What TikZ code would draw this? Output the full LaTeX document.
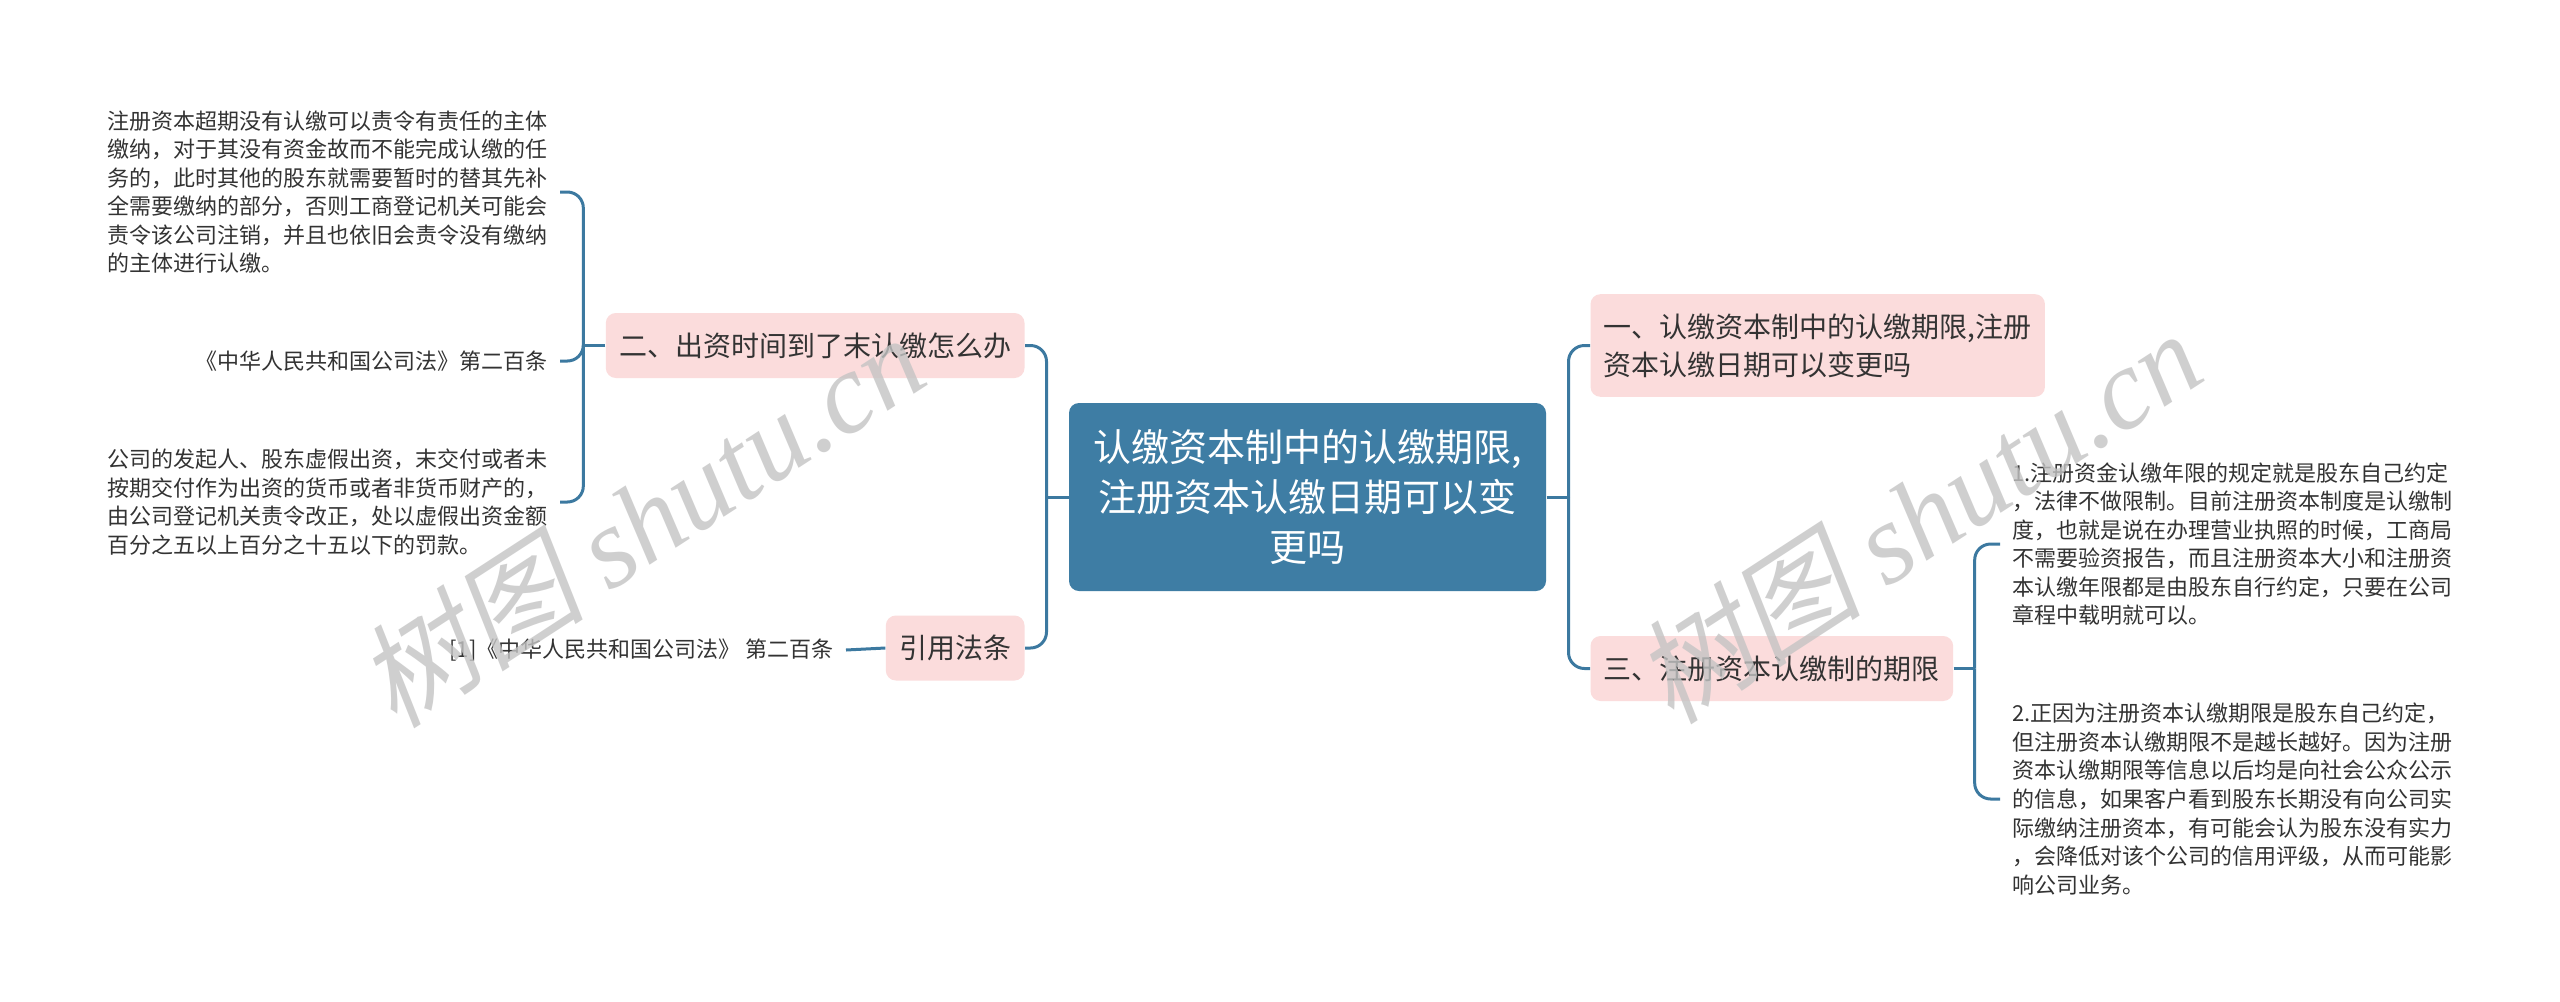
\documentclass[tikz,border=0pt]{standalone}
\usepackage{fontspec}
\setmainfont{Noto Sans CJK SC}
\newfontfamily\wmcjk[FakeSlant=0.2]{Noto Sans CJK SC}
\newfontfamily\wmlatin{Liberation Serif}

\tikzset{every picture/.style={line width=0.75pt}}
\tikzset{
  conn/.style={draw={rgb, 255:red, 60; green, 121; blue, 160 }, line width=2.25pt},
  topic/.style={fill={rgb, 255:red, 62; green, 125; blue, 164 }, rounded corners=7.5pt, text=white, minimum width=357.75pt, minimum height=141pt, align=center, font=\fontsize{28.5}{37.5}\selectfont},
  sub/.style={fill={rgb, 255:red, 251; green, 220; blue, 220 }, rounded corners=7.5pt, text={rgb, 255:red, 51; green, 51; blue, 51 }, inner xsep=10pt, minimum height=48.75pt, align=left, font=\fontsize{21}{28.5}\selectfont},
  leaf/.style={text={rgb, 255:red, 51; green, 51; blue, 51 }, inner xsep=9pt, inner ysep=0pt, font=\fontsize{16.5}{21.4}\selectfont},
  wmark/.style={text={rgb, 255:red, 196; green, 196; blue, 196 }, opacity=0.8, rotate=33, font=\fontsize{86}{86}\selectfont}
}

\begin{document}
\begin{tikzpicture}[x=0.75pt,y=0.75pt,yscale=-1,xscale=1]
\fill[white] (0,0) rectangle (2560,1001);
\useasboundingbox (0,0) rectangle (2560,1001);

%Shape: Rounded Rect (centre)
\draw (1307.5,497) node [topic] (root) {认缴资本制中的认缴期限,\\注册资本认缴日期可以变\\更吗};

%Shape: Rounded Rect (left)
\draw (1025,345.5) node [anchor=east] [sub] (b2) {二、出资时间到了末认缴怎么办};
\draw (1025,648) node [anchor=east] [sub] (b4) {引用法条};
%Shape: Rounded Rect (right)
\draw (1590,345.5) node [anchor=west] [sub] [minimum height=77pt] (b1) {一、认缴资本制中的认缴期限,注册\\资本认缴日期可以变更吗};
\draw (1590,668.5) node [anchor=west] [sub] (b3) {三、注册资本认缴制的期限};

% Text Node
\draw (560,192) node [anchor=east] [leaf] [align=left] (la) {注册资本超期没有认缴可以责令有责任的主体\\缴纳，对于其没有资金故而不能完成认缴的任\\务的，此时其他的股东就需要暂时的替其先补\\全需要缴纳的部分，否则工商登记机关可能会\\责令该公司注销，并且也依旧会责令没有缴纳\\的主体进行认缴。};
% Text Node
\draw (560,361) node [anchor=east] [leaf] [align=right] (lb) {《中华人民共和国公司法》第二百条};
% Text Node
\draw (560,502) node [anchor=east] [leaf] [align=left] (lc) {公司的发起人、股东虚假出资，末交付或者未\\按期交付作为出资的货币或者非货币财产的，\\由公司登记机关责令改正，处以虚假出资金额\\百分之五以上百分之十五以下的罚款。};
% Text Node
\draw (846,650) node [anchor=east] [leaf] (ld) {[1]《中华人民共和国公司法》 第二百条};
% Text Node
\draw (2000,544) node [anchor=west] [leaf] [align=left] (l1) {1.注册资金认缴年限的规定就是股东自己约定\\，法律不做限制。目前注册资本制度是认缴制\\度，也就是说在办理营业执照的时候，工商局\\不需要验资报告，而且注册资本大小和注册资\\本认缴年限都是由股东自行约定，只要在公司\\章程中载明就可以。};
% Text Node
\draw (2000,799) node [anchor=west] [leaf] [align=left] (l2) {2.正因为注册资本认缴期限是股东自己约定，\\但注册资本认缴期限不是越长越好。因为注册\\资本认缴期限等信息以后均是向社会公众公示\\的信息，如果客户看到股东长期没有向公司实\\际缴纳注册资本，有可能会认为股东没有实力\\，会降低对该个公司的信用评级，从而可能影\\响公司业务。};

%Straight Lines
\draw [conn] (root.west) -- ++(-22,0) coordinate (jl);
\draw [conn] [rounded corners=12pt] (jl) |- (b2.east);
\draw [conn] [rounded corners=12pt] (jl) |- (b4.east);
\draw [conn] (root.east) -- ++(22,0) coordinate (jr);
\draw [conn] [rounded corners=12pt] (jr) |- (b1.west);
\draw [conn] [rounded corners=12pt] (jr) |- (b3.west);
\draw [conn] (b2.west) -- ++(-22,0) coordinate (j2);
\draw [conn] [rounded corners=12pt] (j2) |- (la.east);
\draw [conn] [rounded corners=12pt] (j2) |- (lb.east);
\draw [conn] [rounded corners=12pt] (j2) |- (lc.east);
\draw [conn] (b4.west) -- (ld.east);
\draw [conn] (b3.east) -- ++(21,0) coordinate (j3);
\draw [conn] [rounded corners=12pt] (j3) |- (l1.west);
\draw [conn] [rounded corners=12pt] (j3) |- (l2.west);

% Text Node (watermark)
\draw (640,520) node [wmark] (wm1) {{\wmcjk 树图} {\wmlatin\itshape shutu.cn}};
\draw (1917,516) node [wmark] (wm2) {{\wmcjk 树图} {\wmlatin\itshape shutu.cn}};

\end{tikzpicture}
\end{document}
